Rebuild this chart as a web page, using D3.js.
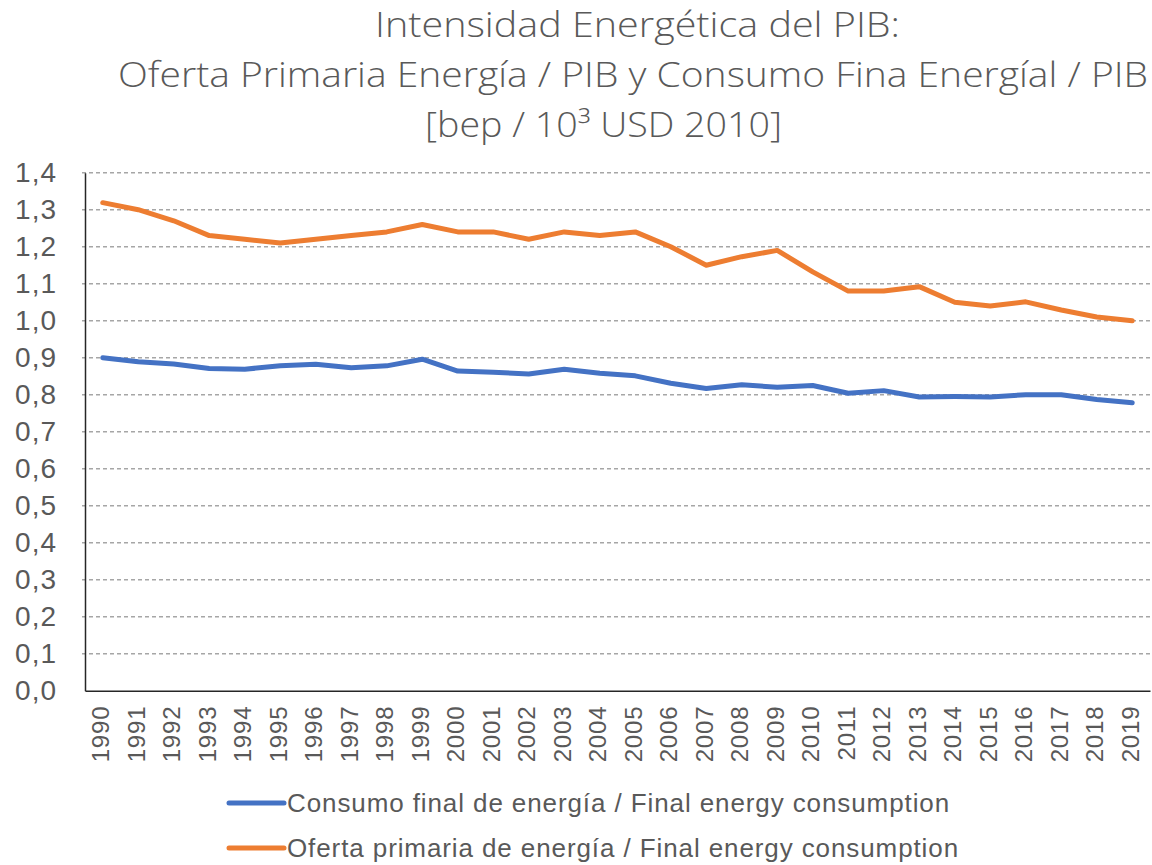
<!DOCTYPE html>
<html>
<head>
<meta charset="utf-8">
<script src="https://cdn.jsdelivr.net/npm/d3@7"></script>
<style>
  body { margin: 0; background: #fff; }
  svg { display: block; }
  text { fill: #595959; }
</style>
</head>
<body>
<svg id="chart" width="1152" height="865"></svg>
<script>
const years = d3.range(1990, 2020).map(String);

const consumoFinal = [
  0.900, 0.889, 0.883, 0.871, 0.869, 0.878, 0.882, 0.873, 0.878, 0.896,
  0.864, 0.861, 0.856, 0.869, 0.858, 0.851, 0.831, 0.817, 0.827, 0.820,
  0.825, 0.804, 0.811, 0.794, 0.795, 0.794, 0.800, 0.800, 0.787, 0.778
];

const ofertaPrimaria = [
  1.319, 1.300, 1.270, 1.230, 1.220, 1.210, 1.220, 1.230, 1.240, 1.260,
  1.240, 1.240, 1.220, 1.240, 1.230, 1.240, 1.200, 1.150, 1.173, 1.190,
  1.132, 1.080, 1.080, 1.092, 1.050, 1.040, 1.051, 1.029, 1.010, 1.000
];

const yTicks = [0, 0.1, 0.2, 0.3, 0.4, 0.5, 0.6, 0.7, 0.8, 0.9, 1.0, 1.1, 1.2, 1.3, 1.4];

const titleLines = [
  "Intensidad Energética del PIB:",
  "Oferta Primaria Energía / PIB y Consumo Fina Energíal / PIB",
  "[bep / 10³ USD 2010]"
];

const series = [
  { name: "Consumo final de energía / Final energy consumption", values: consumoFinal, color: "#4472C4" },
  { name: "Oferta primaria de energía / Final energy consumption", values: ofertaPrimaria, color: "#ED7D31" }
];

const svg = d3.select("#chart");
const plot = { left: 85, right: 1150, top: 172.7, bottom: 690.7 };

const x = d3.scaleBand().domain(years).range([plot.left, plot.right]);
const y = d3.scaleLinear().domain([0, 1.4]).range([plot.bottom, plot.top]);
const fmt = v => d3.format(".1f")(v).replace(".", ",");
const labelFont = "'Liberation Sans', Arial, sans-serif";

// title
const titlePos = [
  { x: 375, y: 37, w: 525 },
  { x: 118, y: 87, w: 1030 },
  { x: 425, y: 137, w: 357 }
];
svg.selectAll("text.title")
  .data(titleLines)
  .enter()
  .append("text")
  .attr("class", "title")
  .attr("x", (d, i) => titlePos[i].x)
  .attr("y", (d, i) => titlePos[i].y)
  .attr("textLength", (d, i) => titlePos[i].w)
  .attr("lengthAdjust", "spacingAndGlyphs")
  .style("font-family", "'Open Sans', sans-serif")
  .style("font-weight", 300)
  .style("font-size", "34px")
  .text(d => d);

// gridlines
svg.append("g")
  .selectAll("line")
  .data(yTicks.filter(d => d > 0))
  .enter()
  .append("line")
  .attr("x1", plot.left - 3)
  .attr("x2", plot.right)
  .attr("y1", d => y(d))
  .attr("y2", d => y(d))
  .attr("stroke", "#A6A6A6")
  .attr("stroke-width", 1.5)
  .attr("stroke-dasharray", "4,3");

// y axis
const yAxis = svg.append("g")
  .attr("transform", `translate(${plot.left},0)`)
  .call(d3.axisLeft(y).tickValues(yTicks).tickFormat(fmt).tickSize(0).tickPadding(28));
yAxis.select(".domain").attr("stroke", "#262626").attr("stroke-width", 1.5);
yAxis.selectAll("text")
  .style("font-family", labelFont)
  .style("font-size", "28px")
  .style("letter-spacing", "1px")
  .attr("fill", "#595959");

// x axis
const xAxis = svg.append("g")
  .attr("transform", `translate(0,${plot.bottom})`)
  .call(d3.axisBottom(x).tickSize(0).tickSizeOuter(0));
xAxis.select(".domain").attr("stroke", "#262626").attr("stroke-width", 1.5);
xAxis.selectAll("text")
  .style("font-family", labelFont)
  .style("font-size", "24px")
  .style("letter-spacing", "0.8px")
  .attr("fill", "#595959")
  .attr("transform", "rotate(-90)")
  .attr("text-anchor", "end")
  .attr("x", -15)
  .attr("y", -2)
  .attr("dy", "0.35em");

// lines
const line = d3.line()
  .x((d, i) => x(years[i]) + x.bandwidth() / 2)
  .y(d => y(d));

svg.append("g")
  .selectAll("path")
  .data(series)
  .enter()
  .append("path")
  .attr("d", d => line(d.values))
  .attr("fill", "none")
  .attr("stroke", d => d.color)
  .attr("stroke-width", 5)
  .attr("stroke-linejoin", "round")
  .attr("stroke-linecap", "round");

// legend
const legend = svg.append("g")
  .selectAll("g")
  .data(series)
  .enter()
  .append("g")
  .attr("transform", (d, i) => `translate(229,${803 + i * 45})`);

legend.append("line")
  .attr("x1", 0)
  .attr("x2", 55)
  .attr("stroke", d => d.color)
  .attr("stroke-width", 5)
  .attr("stroke-linecap", "round");

legend.append("text")
  .attr("x", 58)
  .attr("dy", "0.35em")
  .style("font-family", labelFont)
  .style("font-size", "26px")
  .style("letter-spacing", "0.9px")
  .text(d => d.name);
</script>
</body>
</html>
